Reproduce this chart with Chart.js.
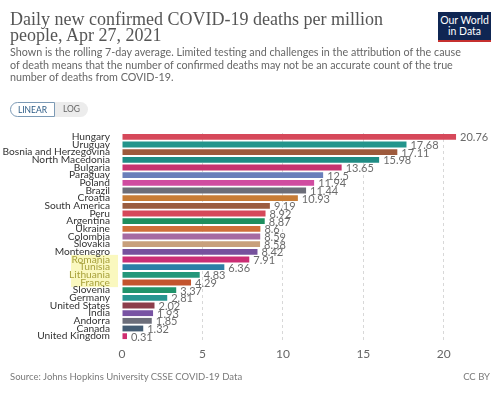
<!DOCTYPE html>
<html><head><meta charset="utf-8">
<script src="https://cdn.jsdelivr.net/npm/chart.js@4"></script>
<style>
html,body{margin:0;padding:0;background:#fff;width:504px;height:393px;overflow:hidden;font-family:Lato,"Open Sans",sans-serif;}
#wrap{position:relative;width:504px;height:393px;}
canvas{position:absolute;left:0;top:0;}
.t{position:absolute;left:10px;top:11px;font-family:"Liberation Serif","DejaVu Serif",serif;font-size:18px;line-height:16px;color:#555;width:420px;}
.s{position:absolute;left:10px;top:46px;font-size:10.75px;line-height:12.6px;color:#666;width:462px;}
.btn{position:absolute;top:102px;height:15px;font-size:8.5px;line-height:15px;text-align:center;box-sizing:border-box;}
#lin{left:10px;width:45px;border:1px solid #7c9ab5;border-radius:8px 0 0 8px;color:#2d5c86;background:#fff;}
#log{left:55px;width:33px;background:#ececec;color:#666;border-radius:0 8px 8px 0;}
.logo{position:absolute;left:438px;top:12px;width:53px;height:30px;background:#0f2653;border-bottom:2px solid #c6302f;color:#fff;font-size:10.5px;line-height:11px;text-align:center;box-sizing:border-box;padding-top:3px;}
.src{position:absolute;left:10px;top:371px;font-size:9.5px;color:#7a7a7a;}
.cc{position:absolute;right:14px;top:371px;font-size:9.5px;color:#7a7a7a;}
</style></head>
<body><div id="wrap">
<canvas id="c" width="504" height="393"></canvas>
<div class="t">Daily new confirmed COVID-19 deaths per million people, Apr 27, 2021</div>
<div class="s">Shown is the rolling 7-day average. Limited testing and challenges in the attribution of the cause of death means that the number of confirmed deaths may not be an accurate count of the true number of deaths from COVID-19.</div>
<div class="btn" id="lin">LINEAR</div><div class="btn" id="log">LOG</div>
<div class="logo">Our World<br>in Data</div>
<div class="src">Source: Johns Hopkins University CSSE COVID-19 Data</div>
<div class="cc">CC BY</div>
</div>
<script>
const categories = ["Hungary","Uruguay","Bosnia and Herzegovina","North Macedonia","Bulgaria","Paraguay","Poland","Brazil","Croatia","South America","Peru","Argentina","Ukraine","Colombia","Slovakia","Montenegro","Romania","Tunisia","Lithuania","France","Slovenia","Germany","United States","India","Andorra","Canada","United Kingdom"];
const deathsPerMillion = [20.76,17.68,17.11,15.98,13.65,12.5,11.94,11.44,10.93,9.19,8.92,8.87,8.6,8.59,8.58,8.42,7.91,6.36,4.83,4.29,3.37,2.81,2.02,1.93,1.85,1.32,0.31];
const barColors = ["#d6485a","#23958c","#9e5a3c","#1f8c84","#c7336f","#6a7fba","#d04ca0","#6c6d78","#c77c36","#9b5d40","#d6485a","#1e8e5e","#cf6f3a","#a56aa2","#c8a07c","#76519d","#cb2e74","#2c7fa6","#24977a","#c3542e","#21936b","#279590","#8c3e4b","#7853a3","#6c6e7a","#445c73","#cf2d70"];
const xTicks = [0,5,10,15,20];
const highlighted = ["Romania","Tunisia","Lithuania","France"];

const valueLabels = {
  id:'valueLabels',
  afterDatasetsDraw(chart){
    const ctx=chart.ctx, xs=chart.scales.x, ys=chart.scales.y;
    ctx.save();
    ctx.font='11px Lato, sans-serif';
    ctx.fillStyle='#6b6b6b';
    ctx.textBaseline='middle';
    deathsPerMillion.forEach((v,i)=>{
      ctx.fillText(String(v), xs.getPixelForValue(v)+4, ys.getPixelForValue(i)+1);
    });
    ctx.restore();
  }
};
const highlight = {
  id:'highlight',
  beforeDraw(chart){
    const ys=chart.scales.y, ctx=chart.ctx;
    const i0=categories.indexOf(highlighted[0]), i1=categories.indexOf(highlighted[highlighted.length-1]);
    const top=ys.getPixelForValue(i0-0.6), bot=ys.getPixelForValue(i1+0.6);
    ctx.save();
    ctx.fillStyle='rgba(248,246,170,0.75)';
    ctx.fillRect(71,top,47,bot-top);
    ctx.restore();
  }
};

new Chart(document.getElementById('c'),{
  type:'bar',
  data:{labels:categories,datasets:[{data:deathsPerMillion,backgroundColor:barColors,barPercentage:0.76,categoryPercentage:1}]},
  options:{
    indexAxis:'y',responsive:false,animation:false,
    layout:{padding:{top:133,right:28,left:0,bottom:0}},
    plugins:{legend:{display:false},tooltip:{enabled:false},title:{display:false}},
    scales:{
      x:{min:0,max:22,
        afterBuildTicks(s){s.ticks=xTicks.map(v=>({value:v}));},
        afterFit(s){s.height=53;},
        grid:{drawTicks:false,color:(c)=>c.tick&&c.tick.value===0?'rgba(0,0,0,0)':'#d8d8d8',lineWidth:1},
        border:{display:false,dash:[3,3]},
        ticks:{padding:7,color:'#666',font:{family:'Lato',size:12}}
      },
      y:{
        afterFit(s){s.width=122;},
        grid:{display:false},border:{display:false},
        ticks:{autoSkip:false,padding:4,color:(c)=>highlighted.includes(categories[c.index])?'#a8a23c':'#333',font:{family:'Lato',size:10.2}}
      }
    }
  },
  plugins:[highlight,valueLabels]
});
</script>
</body></html>
